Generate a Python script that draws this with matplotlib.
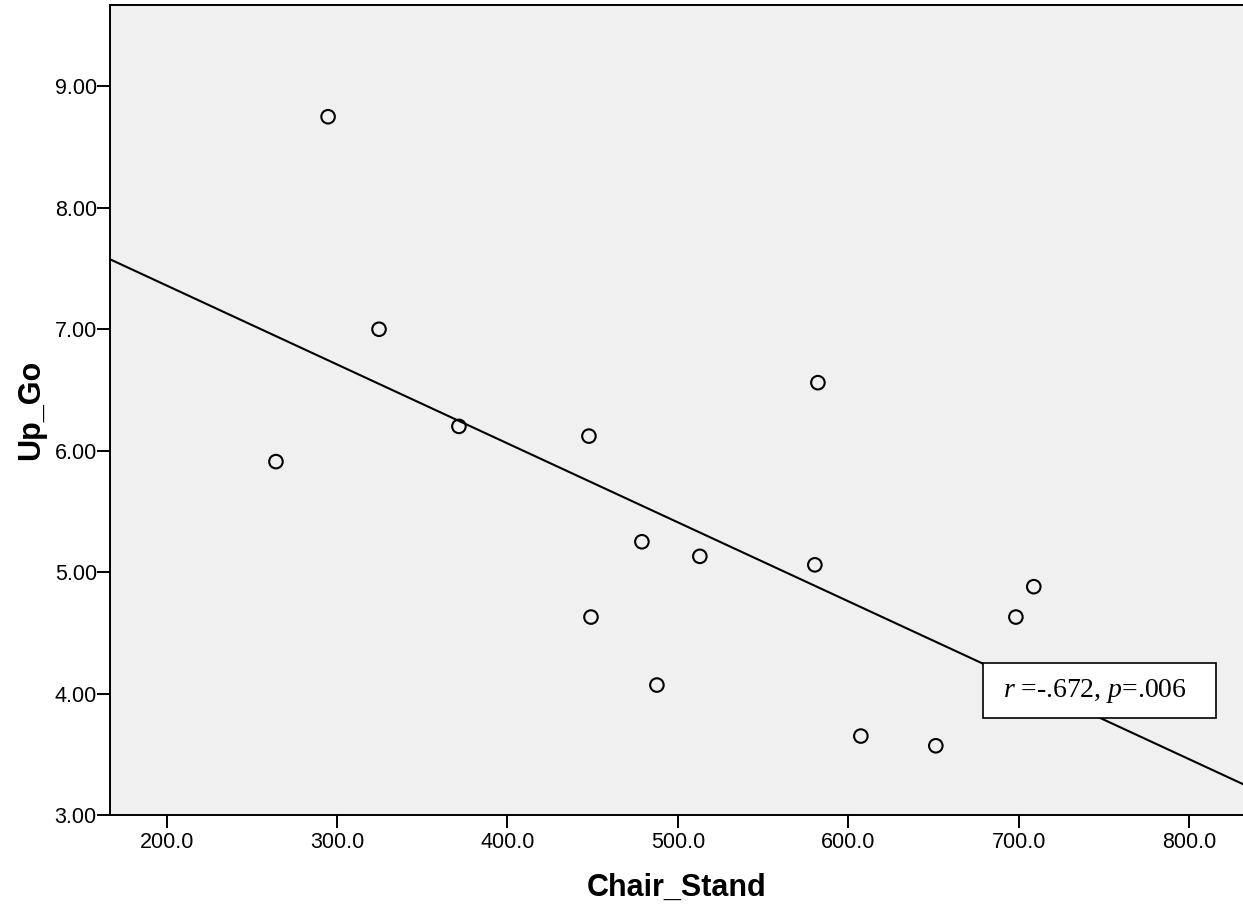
import numpy as np
import matplotlib
matplotlib.use("Agg")
import matplotlib.pyplot as plt
from matplotlib.patches import Rectangle

chair_stand = [264.1, 294.7, 324.6, 371.5, 447.8, 449.0, 478.9, 487.7,
               512.9, 582.2, 580.4, 607.4, 651.4, 698.4, 708.9]
up_go = [5.91, 8.75, 7.00, 6.20, 6.12, 4.63, 5.25, 4.07,
         5.13, 6.56, 5.06, 3.65, 3.57, 4.63, 4.88]
x_ticks = [200, 300, 400, 500, 600, 700, 800]
y_ticks = [3, 4, 5, 6, 7, 8, 9]

plt.rcParams['font.family'] = ['Liberation Sans', 'DejaVu Sans']
plt.rcParams['mathtext.fontset'] = 'custom'
plt.rcParams['mathtext.rm'] = 'Liberation Serif'
plt.rcParams['mathtext.it'] = 'Liberation Serif:italic'

fig = plt.figure(figsize=(12.43, 9.09), dpi=100)
ax = fig.add_axes([110/1243, 1 - 815/909, 1 - 110/1243, (815 - 5)/909])
ax.set_facecolor('#F0F0F0')

xmin, xmax = 166.7, 831.7
ymin, ymax = 3.0, 9.67
ax.set_xlim(xmin, xmax)
ax.set_ylim(ymin, ymax)

x = np.array(chair_stand)
y = np.array(up_go)
slope, intercept = np.polyfit(x, y, 1)
xx = np.array([xmin, xmax])
ax.plot(xx, slope * xx + intercept, color='black', lw=1.5, zorder=2)

ax.scatter(x, y, s=95, facecolors='none', edgecolors='black', linewidths=1.5, zorder=3)

ax.set_xticks(x_ticks)
ax.set_xticklabels([f"{v:.1f}" for v in x_ticks])
ax.set_yticks(y_ticks)
ax.set_yticklabels([f"{v:.2f}" for v in y_ticks])
ax.tick_params(axis='both', labelsize=15.5, length=9.5, width=1.4, color='black')
ax.tick_params(axis='y', pad=0)
ax.tick_params(axis='x', pad=3)

for s in ['left', 'bottom', 'top']:
    ax.spines[s].set_linewidth(1.4)
ax.spines['right'].set_visible(False)

ax.set_xlabel("Chair_Stand", fontsize=22, fontweight='bold', labelpad=14)
ax.set_ylabel("Up_Go", fontsize=22, fontweight='bold', labelpad=6)

# annotation box
bx0, bx1 = 679.0, 815.6
by0, by1 = 3.80, 4.25
ax.add_patch(Rectangle((bx0, by0), bx1 - bx0, by1 - by0, facecolor='white',
                       edgecolor='black', lw=1.2, zorder=4))
ax.text(690.8, (by0 + by1) / 2, r"$\mathit{r}$ =-.672, $\mathit{p}$=.006",
        fontsize=20, ha='left', va='center', zorder=5,
        family='Liberation Serif')

fig.savefig("out.png", dpi=100)
